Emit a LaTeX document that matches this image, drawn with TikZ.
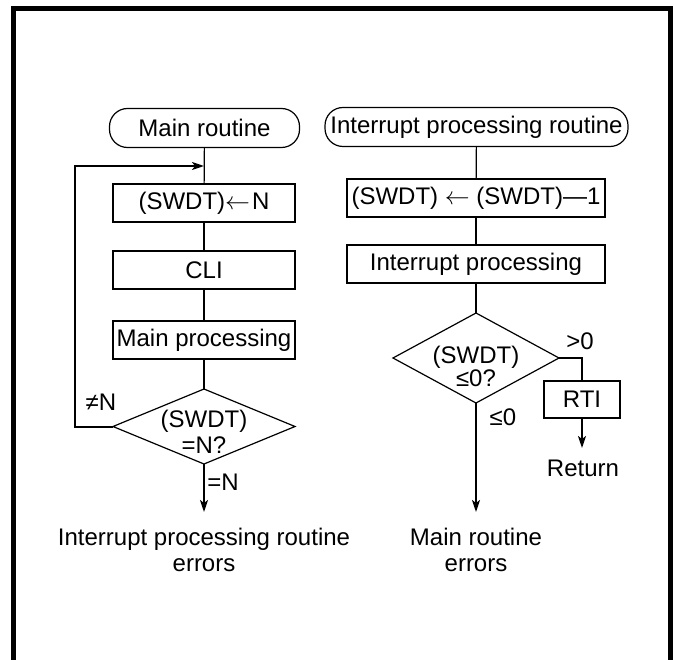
\documentclass[tikz,border=0pt]{standalone}
\usepackage{fontspec}
\setmainfont{Liberation Sans}
\usetikzlibrary{shapes.geometric,arrows.meta}
\begin{document}
\begin{tikzpicture}[x=1pt,y=-1pt,
  every node/.style={font=\fontsize{24}{26}\selectfont, inner sep=0pt, outer sep=0pt},
  term/.style={draw, line width=1.2pt, rounded corners=18pt, minimum width=#1, minimum height=39pt},
  procbox/.style={draw, line width=1.2pt, minimum width=#1, minimum height=38pt},
  decision/.style={draw, diamond, line width=1.2pt, minimum width=#1},
  thinline/.style={line width=1.2pt},
  arrowline/.style={line width=2pt, -{Stealth[length=12pt,width=8pt,inset=3pt]}},
  loopline/.style={line width=2pt},
  lbl/.style={anchor=base}
]
\useasboundingbox (0,0) rectangle (674,660);
% frame
\draw[line width=5pt, line join=miter] (13.5,670) -- (13.5,8.5) -- (670.5,8.5) -- (670.5,670);

% ---------- main routine ----------
\node[term=190pt] (mT) at (204.5,128) {Main routine};
\node[procbox=182pt] (mb1) at (204,203) {(SWDT)\ensuremath{\leftarrow}\kern2pt N};
\node[procbox=182pt] (mb2) at (204,270) {CLI};
\node[procbox=182pt] (mb3) at (204,340) {Main processing};
\node[decision=182pt, minimum height=75pt] (d1) at (204,426.5) {};
\node[lbl] (d1a) at (204,427) {(SWDT)};
\node[lbl] (d1b) at (204,453) {=N?};

\coordinate (j) at (204,166);
\coordinate (lA) at (75,426.5);
\coordinate (lB) at (75,166);
\coordinate (e1) at (204,512);

\draw[thinline] (mT) -- (mb1);
\draw[thinline] (mb1) -- (mb2);
\draw[thinline] (mb2) -- (mb3);
\draw[thinline] (mb3) -- (d1.north);
\draw[loopline] (d1.west) -- (lA) -- (lB) -- ([xshift=-6pt]j);
\draw[arrowline] (lB) -- (j);
\draw[arrowline] (d1.south) -- (e1);

\node[lbl] (ne) at (101,410) {≠N};
\node[lbl] (eq) at (223,490) {=N};
\node[lbl] (err1) at (204,545) {Interrupt processing routine};
\node[lbl] (err1b) at (204,571) {errors};

% ---------- interrupt routine ----------
\node[term=303pt] (iT) at (476.5,127) {Interrupt processing routine};
\node[procbox=258pt] (ib1) at (476,198) {(SWDT) \ensuremath{\leftarrow} (SWDT)—1};
\node[procbox=258pt] (ib2) at (476,264) {Interrupt processing};
\node[decision=166pt, minimum height=90pt] (d2) at (476,358) {};
\node[lbl] (d2a) at (476,363) {(SWDT)};
\node[lbl] (d2b) at (476,386) {≤0?};
\node[procbox=76pt, minimum height=37pt] (rti) at (582,399.5) {RTI};

\coordinate (c2) at (582,358);
\coordinate (ret) at (582,448);
\coordinate (e2) at (476,512);

\draw[thinline] (iT) -- (ib1);
\draw[thinline] (ib1) -- (ib2);
\draw[thinline] (ib2) -- (d2.north);
\draw[thinline] (d2.east) -- (c2) -- (rti.north);
\draw[arrowline] (rti.south) -- (ret);
\draw[arrowline] (d2.south) -- (e2);

\node[lbl] (gt) at (580,349) {>0};
\node[lbl] (le) at (503,425) {≤0};
\node[lbl] (rtn) at (583,476) {Return};
\node[lbl] (err2) at (476,545) {Main routine};
\node[lbl] (err2b) at (476,571) {errors};
\end{tikzpicture}
\end{document}
